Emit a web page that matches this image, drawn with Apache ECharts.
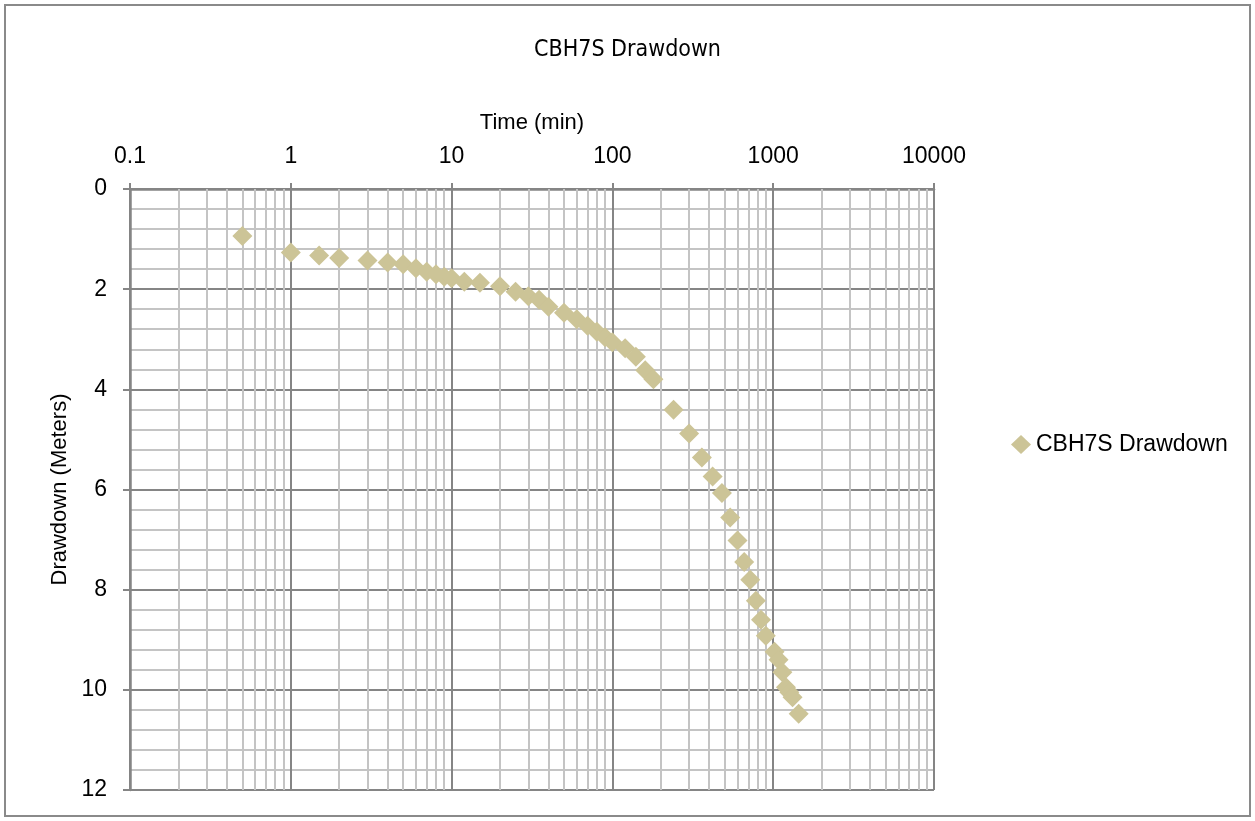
<!DOCTYPE html>
<html><head><meta charset="utf-8">
<script src="https://cdn.jsdelivr.net/npm/echarts@6/dist/echarts.min.js"></script>
<style>html,body{margin:0;padding:0;background:#fff}#c{width:1255px;height:821px}</style>
</head><body><div id="c"></div>
<script>
// Data
const timeMin = [0.5, 1, 1.5, 2, 3, 4, 5, 6, 7, 8, 9, 10, 12, 15, 20, 25, 30, 35, 40, 50, 60, 70, 80, 90, 100, 120, 140, 160, 180, 240, 300, 360, 420, 480, 540, 600, 660, 720, 780, 840, 900, 1020, 1080, 1140, 1200, 1260, 1320, 1440];
const drawdownM = [0.94, 1.27, 1.33, 1.38, 1.43, 1.47, 1.50, 1.58, 1.65, 1.70, 1.75, 1.78, 1.85, 1.87, 1.94, 2.05, 2.14, 2.21, 2.35, 2.47, 2.60, 2.73, 2.85, 2.96, 3.06, 3.18, 3.35, 3.62, 3.80, 4.41, 4.88, 5.36, 5.74, 6.07, 6.56, 7.02, 7.45, 7.80, 8.22, 8.60, 8.92, 9.24, 9.40, 9.65, 9.95, 10.05, 10.15, 10.48];
const xTickValues = [0.1, 1, 10, 100, 1000, 10000];
const xTickLabels = ['0.1', '1', '10', '100', '1000', '10000'];
const yTickLabels = ['0', '2', '4', '6', '8', '10', '12'];
const minorMultipliers = [2, 3, 4, 5, 6, 7, 8, 9];
const minorDecades = [0.1, 1, 10, 100, 1000];

const FONT = 'Liberation Sans, Arial, sans-serif';
const TITLE_FONT = '"DejaVu Sans Condensed", "Liberation Sans", sans-serif';
const MAJOR = '#858585';
const MINOR = '#C4C4C4';
const MARK = '#CCC497';

const minorX = [];
minorDecades.forEach(d => minorMultipliers.forEach(m => minorX.push({ xAxis: +(d * m).toPrecision(6) })));

function xLabel(v) {
  const i = xTickValues.findIndex(t => Math.abs(t - v) / t < 1e-6);
  return i >= 0 ? xTickLabels[i] : '';
}

const chart = echarts.init(document.getElementById('c'), null, { renderer: 'canvas' });
chart.setOption({
  animation: false,
  backgroundColor: '#fff',
  textStyle: { fontFamily: FONT },
  title: {
    text: 'CBH7S Drawdown', left: 'center', top: 34,
    textStyle: { fontFamily: TITLE_FONT, fontSize: 23, fontWeight: 'normal', color: '#000' }
  },
  legend: {
    left: 1006, top: 428, icon: 'diamond', itemWidth: 20, itemHeight: 19, itemGap: 10,
    textStyle: { fontFamily: FONT, fontSize: 23, color: '#000' },
    data: ['CBH7S Drawdown']
  },
  graphic: [{
    type: 'rect', silent: true, z: 100,
    shape: { x: 5, y: 5, width: 1245, height: 811 },
    style: { fill: 'none', stroke: '#8A8A8A', lineWidth: 2 }
  }],
  grid: { left: 130, right: 321, top: 189, bottom: 31, containLabel: false },
  xAxis: {
    type: 'log', logBase: 10, min: 0.1, max: 10000, position: 'top',
    name: 'Time (min)', nameLocation: 'middle', nameGap: 55,
    nameTextStyle: { fontFamily: FONT, fontSize: 22, color: '#000' },
    axisLine: { show: true, lineStyle: { color: MAJOR, width: 2.5 } },
    axisTick: { show: true, length: 6, lineStyle: { color: MAJOR, width: 2 } },
    axisLabel: { margin: 21, fontFamily: FONT, fontSize: 23, color: '#000', formatter: xLabel },
    splitLine: { show: true, lineStyle: { color: MAJOR, width: 2 } }
  },
  yAxis: {
    type: 'value', inverse: true, min: 0, max: 12, interval: 2,
    name: 'Drawdown (Meters)', nameLocation: 'middle', nameGap: 54,
    nameTextStyle: { fontFamily: FONT, fontSize: 22, color: '#000' },
    axisLine: { show: true, lineStyle: { color: MAJOR, width: 2.5 } },
    axisTick: { show: true, length: 7, lineStyle: { color: MAJOR, width: 2 } },
    axisLabel: { margin: 23, fontFamily: FONT, fontSize: 23, color: '#000',
      formatter: v => yTickLabels[Math.round(v / 2)] },
    splitLine: { show: true, lineStyle: { color: MAJOR, width: 2 } },
    minorTick: { show: false, splitNumber: 5 },
    minorSplitLine: { show: true, lineStyle: { color: MINOR, width: 2 } }
  },
  series: [
    {
      name: 'gridMinor', type: 'scatter', data: [], z: -1, silent: true,
      markLine: {
        silent: true, symbol: 'none', animation: false,
        label: { show: false },
        lineStyle: { color: MINOR, width: 2, type: 'solid' },
        emphasis: { disabled: true },
        data: minorX
      }
    },
    {
      name: 'CBH7S Drawdown', type: 'scatter', z: 5,
      symbol: 'diamond', symbolSize: 20,
      itemStyle: { color: MARK, opacity: 1 },
      data: timeMin.map((t, i) => [t, drawdownM[i]])
    }
  ]
});
</script></body></html>
